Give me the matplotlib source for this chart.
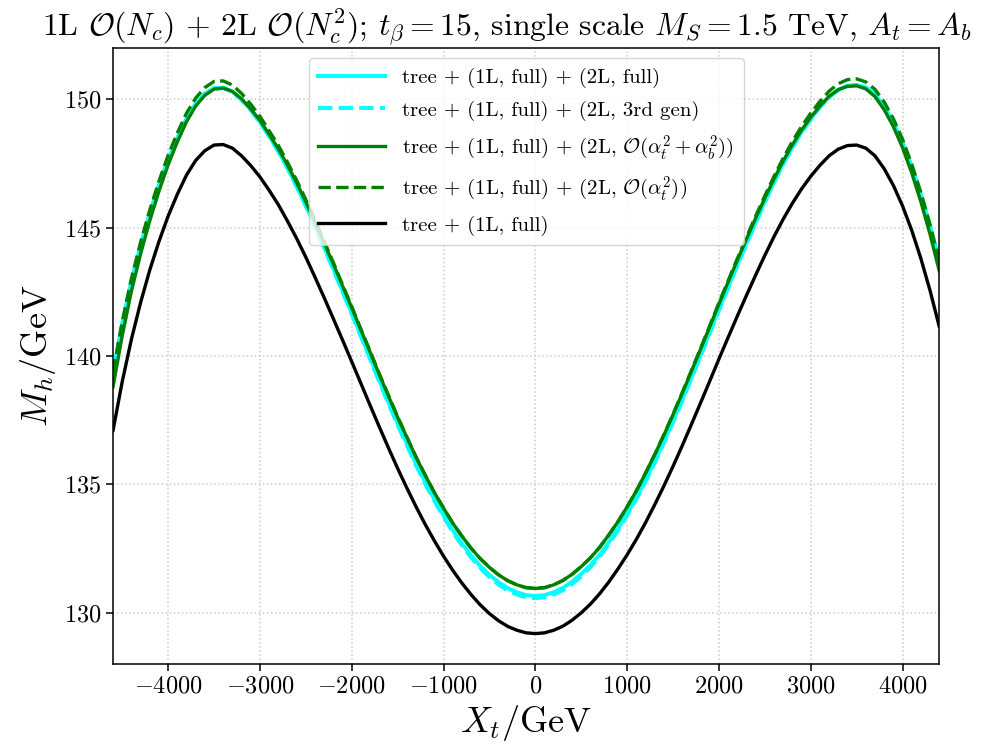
import matplotlib
matplotlib.use("Agg")
import matplotlib.pyplot as plt

plt.rcParams['font.family'] = 'serif'
plt.rcParams['font.serif'] = ['cmr10', 'DejaVu Serif']
plt.rcParams['mathtext.fontset'] = 'cm'
plt.rcParams['axes.formatter.use_mathtext'] = True
plt.rcParams['axes.unicode_minus'] = True

# X_t / GeV
xt = list(range(-4600, 4401, 100))

# tree + (1L, full)
mh_1l = [137.10, 139.00, 140.65, 142.08, 143.35, 144.46, 145.45, 146.30, 147.05, 147.62,
         148.00, 148.22, 148.24, 148.10, 147.80, 147.42, 146.98, 146.46, 145.90, 145.26,
         144.58, 143.85, 143.07, 142.27, 141.45, 140.62, 139.78, 138.93, 138.08, 137.24,
         136.42, 135.62, 134.86, 134.13, 133.44, 132.80, 132.20, 131.65, 131.15, 130.70,
         130.30, 129.96, 129.68, 129.46, 129.31, 129.21, 129.18,
         129.21, 129.31, 129.47, 129.70, 129.99, 130.33, 130.73, 131.19, 131.70, 132.25,
         132.85, 133.50, 134.20, 134.93, 135.70, 136.50, 137.33, 138.17, 139.02, 139.88,
         140.72, 141.55, 142.36, 143.15, 143.92, 144.65, 145.33, 145.95, 146.51, 147.00,
         147.43, 147.80, 148.06, 148.20, 148.22, 148.10, 147.80, 147.30, 146.65, 145.85,
         144.90, 143.80, 142.55, 141.15]

# tree + (1L, full) + (2L, full)
mh_2l_full = [139.35, 141.25, 142.90, 144.32, 145.57, 146.67, 147.65, 148.50, 149.25, 149.83,
              150.22, 150.44, 150.46, 150.31, 150.00, 149.60, 149.13, 148.58, 148.00, 147.34,
              146.63, 145.87, 145.07, 144.24, 143.40, 142.54, 141.68, 140.80, 139.93, 139.05,
              138.20, 137.37, 136.58, 135.81, 135.09, 134.42, 133.80, 133.22, 132.70, 132.23,
              131.82, 131.47, 131.18, 130.95, 130.79, 130.68, 130.65,
              130.68, 130.79, 130.96, 131.20, 131.50, 131.85, 132.26, 132.74, 133.27, 133.85,
              134.48, 135.16, 135.90, 136.66, 137.47, 138.30, 139.17, 140.04, 140.93, 141.82,
              142.69, 143.55, 144.40, 145.22, 146.02, 146.78, 147.50, 148.15, 148.74, 149.25,
              149.71, 150.10, 150.38, 150.53, 150.57, 150.47, 150.20, 149.72, 149.10, 148.32,
              147.39, 146.31, 145.08, 143.70]

# tree + (1L, full) + (2L, 3rd gen)
mh_2l_3rd = [139.33, 141.23, 142.88, 144.30, 145.55, 146.65, 147.63, 148.48, 149.23, 149.81,
             150.20, 150.42, 150.44, 150.29, 149.98, 149.58, 149.10, 148.55, 147.97, 147.31,
             146.60, 145.83, 145.03, 144.20, 143.36, 142.49, 141.63, 140.75, 139.88, 138.99,
             138.14, 137.31, 136.52, 135.74, 135.02, 134.35, 133.73, 133.14, 132.62, 132.15,
             131.74, 131.38, 131.09, 130.86, 130.70, 130.59, 130.56,
             130.59, 130.70, 130.87, 131.11, 131.41, 131.77, 132.18, 132.66, 133.19, 133.78,
             134.41, 135.09, 135.83, 136.60, 137.41, 138.24, 139.11, 139.99, 140.88, 141.77,
             142.64, 143.51, 144.36, 145.18, 145.98, 146.75, 147.47, 148.12, 148.71, 149.22,
             149.69, 150.08, 150.36, 150.51, 150.55, 150.45, 150.18, 149.70, 149.08, 148.30,
             147.37, 146.29, 145.06, 143.68]

# tree + (1L, full) + (2L, O(at^2 + ab^2))
mh_2l_atab = [138.80, 140.79, 142.52, 143.98, 145.27, 146.42, 147.45, 148.34, 149.13, 149.74,
              150.16, 150.40, 150.44, 150.31, 150.02, 149.63, 149.18, 148.64, 148.08, 147.44,
              146.75, 146.00, 145.22, 144.40, 143.58, 142.73, 141.88, 141.01, 140.15, 139.28,
              138.44, 137.61, 136.83, 136.06, 135.35, 134.68, 134.07, 133.49, 132.98, 132.51,
              132.10, 131.76, 131.47, 131.24, 131.08, 130.97, 130.94,
              130.97, 131.08, 131.25, 131.49, 131.79, 132.13, 132.54, 133.02, 133.54, 134.12,
              134.74, 135.42, 136.15, 136.91, 137.71, 138.54, 139.40, 140.26, 141.14, 142.02,
              142.88, 143.73, 144.56, 145.37, 146.15, 146.90, 147.60, 148.23, 148.80, 149.30,
              149.74, 150.12, 150.38, 150.51, 150.53, 150.41, 150.11, 149.60, 148.94, 148.12,
              147.14, 146.01, 144.74, 143.32]

# tree + (1L, full) + (2L, O(at^2))
mh_2l_at = [139.40, 141.34, 143.02, 144.43, 145.69, 146.81, 147.82, 148.69, 149.46, 150.05,
            150.46, 150.70, 150.72, 150.56, 150.23, 149.81, 149.34, 148.78, 148.21, 147.55,
            146.85, 146.09, 145.30, 144.47, 143.64, 142.78, 141.93, 141.05, 140.19, 139.31,
            138.47, 137.63, 136.85, 136.07, 135.36, 134.68, 134.07, 133.49, 132.98, 132.51,
            132.10, 131.76, 131.47, 131.24, 131.08, 130.97, 130.94,
            130.97, 131.08, 131.25, 131.49, 131.79, 132.13, 132.54, 133.02, 133.54, 134.12,
            134.74, 135.43, 136.16, 136.93, 137.73, 138.57, 139.43, 140.30, 141.18, 142.07,
            142.93, 143.79, 144.63, 145.45, 146.24, 147.00, 147.71, 148.36, 148.94, 149.46,
            149.92, 150.32, 150.61, 150.77, 150.80, 150.68, 150.39, 149.90, 149.25, 148.45,
            147.48, 146.37, 145.11, 143.70]

labels = [r'tree + (1L, full) + (2L, full)',
          r'tree + (1L, full) + (2L, 3rd gen)',
          r'tree + (1L, full) + (2L, $\mathcal{O}(\alpha_t^2+\alpha_b^2)$)',
          r'tree + (1L, full) + (2L, $\mathcal{O}(\alpha_t^2)$)',
          r'tree + (1L, full)']

fig = plt.figure(figsize=(9.96, 7.51), dpi=100)
ax = fig.add_axes([0.1135, 0.116, 0.8295, 0.82])

ax.plot(xt, mh_2l_full, color='cyan', lw=2.8, ls='-', label=labels[0])
ax.plot(xt, mh_2l_3rd, color='cyan', lw=2.8, ls='--', label=labels[1])
ax.plot(xt, mh_2l_atab, color='green', lw=2.4, ls='-', label=labels[2])
ax.plot(xt, mh_2l_at, color='green', lw=2.4, ls='--', label=labels[3])
ax.plot(xt, mh_1l, color='black', lw=2.4, ls='-', label=labels[4])

ax.set_xlim(-4600, 4400)
ax.set_ylim(128, 152)
ax.set_xticks([-4000, -3000, -2000, -1000, 0, 1000, 2000, 3000, 4000])
ax.set_yticks([130, 135, 140, 145, 150])
ax.tick_params(labelsize=17.5, length=5, width=1.1)
for s in ax.spines.values():
    s.set_linewidth(1.1)
ax.grid(True, ls=':', color='#cccccc', lw=1.1)

ax.set_xlabel(r'$X_t/\mathrm{GeV}$', fontsize=26)
ax.set_ylabel(r'$M_h/\mathrm{GeV}$', fontsize=26)
ax.set_title(r'1L $\mathcal{O}(N_c)$ + 2L $\mathcal{O}(N_c^2)$; $t_\beta = 15$, single scale $M_S = 1.5$ TeV, $A_t = A_b$',
             fontsize=22.8, pad=9, x=0.477)

leg = ax.legend(loc='upper center', fontsize=15, handlelength=3.2, handletextpad=0.85,
                borderpad=0.45, labelspacing=0.6, bbox_to_anchor=(0.5, 1.0))

fig.savefig('out.png', dpi=100)
